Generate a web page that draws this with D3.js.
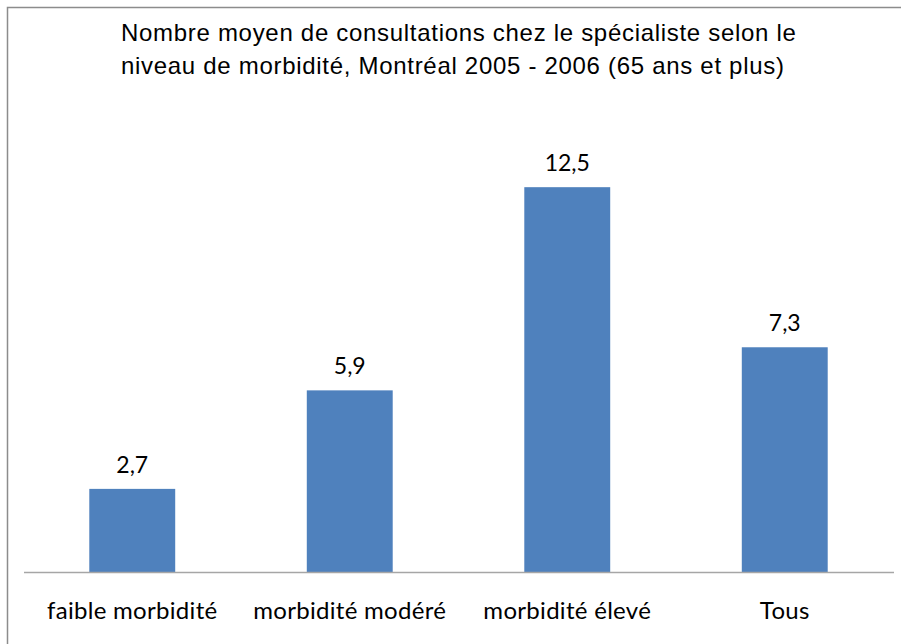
<!DOCTYPE html>
<html>
<head>
<meta charset="utf-8">
<script src="https://cdn.jsdelivr.net/npm/d3@7"></script>
<style>
  body { margin: 0; background: #fff; }
  svg { display: block; }
</style>
</head>
<body>
<svg width="901" height="644"></svg>
<script>
var categories = ["faible morbidité", "morbidité modéré", "morbidité élevé", "Tous"];
var values = [2.7, 5.9, 12.5, 7.3];
var titleLines = [
    "Nombre moyen de consultations chez le spécialiste selon le",
    "niveau de morbidité, Montréal 2005 - 2006 (65 ans et plus)"
];

var svg = d3.select("svg");
var fmt = d => d3.format(".1f")(d).replace(".", ",");

// outer frame (right/bottom edges run past the window)
svg.append("rect")
    .attr("x", 7.5).attr("y", 7.5)
    .attr("width", 910).attr("height", 660)
    .attr("fill", "none")
    .attr("stroke", "#8c8c8c")
    .attr("stroke-width", 1.5);

svg.selectAll("text.title")
    .data(titleLines)
    .enter().append("text")
    .attr("class", "title")
    .attr("x", 121)
    .attr("y", (d, i) => 41 + i * 33)
    .attr("font-family", "Liberation Sans, Arial, sans-serif")
    .attr("font-size", 24)
    .attr("letter-spacing", 0.7)
    .attr("fill", "#000")
    .text(d => d);

var x = d3.scaleBand()
    .domain(categories)
    .range([23.5, 893.5])
    .paddingInner(0.605)
    .paddingOuter(0.3025);

var y = d3.scaleLinear()
    .domain([0, 14])
    .range([572, 141]);

svg.selectAll("rect.bar")
    .data(values)
    .enter().append("rect")
    .attr("class", "bar")
    .attr("x", (d, i) => x(categories[i]))
    .attr("y", d => y(d))
    .attr("width", x.bandwidth())
    .attr("height", d => y(0) - y(d))
    .attr("fill", "#4f81bd");

svg.selectAll("text.val")
    .data(values)
    .enter().append("text")
    .attr("class", "val")
    .attr("x", (d, i) => x(categories[i]) + x.bandwidth() / 2)
    .attr("y", d => y(d) - 16)
    .attr("text-anchor", "middle")
    .attr("font-family", "Lato, Open Sans, sans-serif")
    .attr("font-size", 23)
    .attr("fill", "#000")
    .text(fmt);

var axis = svg.append("g")
    .attr("transform", "translate(0," + y(0) + ")")
    .call(d3.axisBottom(x).tickSize(0).tickPadding(30));

axis.select(".domain")
    .attr("stroke", "#a6a6a6")
    .attr("stroke-width", 1.5);

axis.selectAll("text")
    .attr("font-family", "Lato, Open Sans, sans-serif")
    .attr("font-size", 24)
    .attr("letter-spacing", 0.3)
    .attr("fill", "#000");
</script>
</body>
</html>
